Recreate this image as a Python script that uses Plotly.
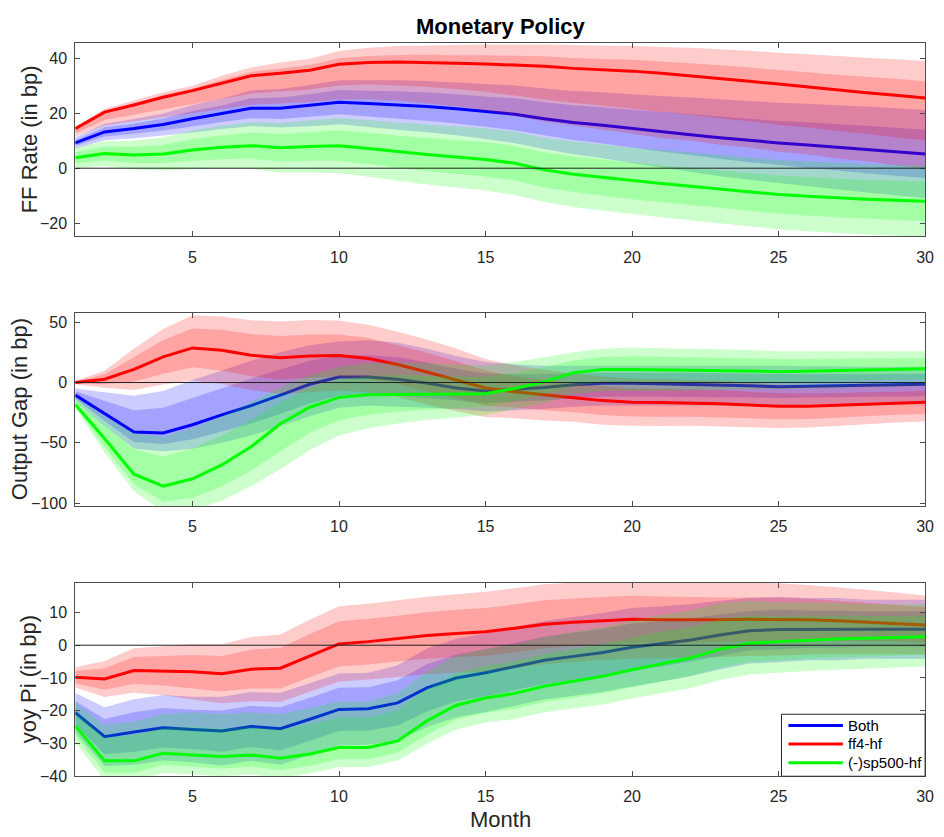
import plotly.graph_objects as go

months = list(range(1, 31))
x_ticks = [5, 10, 15, 20, 25, 30]

# ---------------- FF Rate (in bp) ----------------
ff_both = [9.2, 13.2, 14.4, 15.9, 18.0, 19.8, 21.8, 21.8, 22.8, 24.0, 23.5, 23.0, 22.4, 21.6, 20.6,
           19.6, 18.0, 16.6, 15.6, 14.4, 13.3, 12.2, 11.1, 10.1, 9.2, 8.4, 7.6, 6.8, 6.0, 5.2]
ff_both_o_hi = [11.2, 16.2, 17.9, 19.9, 23.0, 25.3, 28.3, 28.8, 30.3, 32.0, 32.0, 32.0, 31.7, 31.2, 30.6,
                30.1, 29.0, 28.1, 27.6, 26.9, 26.3, 25.7, 25.1, 24.4, 23.8, 23.4, 22.9, 22.4, 21.8, 21.2]
ff_both_i_hi = [10.3, 14.9, 16.3, 18.1, 20.8, 22.8, 25.4, 25.7, 26.9, 28.4, 28.2, 28.0, 27.5, 26.9, 26.1,
                25.4, 24.0, 22.9, 22.2, 21.3, 20.5, 19.6, 18.8, 18.0, 17.2, 16.7, 16.0, 15.4, 14.7, 14.0]
ff_both_i_lo = [8.1, 11.5, 12.5, 13.7, 15.2, 16.8, 18.2, 17.9, 18.7, 19.6, 18.8, 18.0, 17.3, 16.3, 15.1,
                13.8, 12.0, 10.3, 9.0, 7.5, 6.1, 4.8, 3.4, 2.2, 1.2, 0.1, -0.8, -1.8, -2.7, -3.6]
ff_both_o_lo = [7.2, 10.2, 10.9, 11.9, 13.0, 14.3, 15.3, 14.8, 15.3, 16.0, 15.0, 14.0, 13.1, 12.0, 10.6,
                9.1, 7.0, 5.1, 3.6, 1.9, 0.3, -1.3, -2.9, -4.2, -5.4, -6.6, -7.7, -8.8, -9.8, -10.8]

ff_ff4 = [14.4, 20.4, 23.0, 25.8, 28.2, 30.8, 33.6, 34.5, 35.6, 37.8, 38.4, 38.6, 38.5, 38.2, 37.9,
          37.5, 37.1, 36.3, 35.8, 35.3, 34.5, 33.6, 32.7, 31.6, 30.6, 29.5, 28.4, 27.4, 26.5, 25.5]
ff_ff4_o_hi = [15.0, 21.6, 24.6, 27.6, 30.0, 33.6, 36.6, 38.4, 39.8, 42.6, 43.8, 44.4, 44.6, 44.8, 45.0,
               45.0, 45.0, 44.8, 44.6, 44.4, 44.1, 43.8, 43.3, 42.7, 42.0, 41.4, 40.8, 40.2, 39.6, 39.0]
ff_ff4_i_hi = [14.7, 20.9, 23.7, 26.6, 29.0, 32.1, 35.0, 36.3, 37.5, 40.0, 40.8, 41.2, 41.3, 41.1, 41.1,
               40.9, 40.7, 40.1, 39.7, 39.4, 38.8, 38.2, 37.4, 36.6, 35.7, 34.9, 34.0, 33.3, 32.5, 31.6]
ff_ff4_i_lo = [12.7, 17.5, 19.4, 21.4, 23.3, 25.2, 27.2, 27.9, 28.6, 30.1, 30.4, 30.1, 29.5, 28.8, 27.8,
               26.4, 25.0, 23.8, 22.7, 21.6, 20.4, 19.4, 18.2, 17.1, 15.8, 14.8, 13.5, 12.5, 11.2, 10.2]
ff_ff4_o_lo = [11.5, 15.5, 17.0, 18.5, 20.0, 21.5, 23.0, 23.5, 24.0, 25.0, 25.0, 24.5, 23.5, 22.5, 21.0,
               19.0, 17.0, 15.5, 14.0, 12.5, 11.0, 10.0, 8.5, 7.5, 6.0, 5.0, 3.5, 2.5, 1.0, 0.0]

ff_sp = [3.8, 5.3, 4.8, 5.2, 6.6, 7.6, 8.2, 7.4, 7.9, 8.2, 7.2, 6.0, 5.0, 4.1, 3.2,
         1.8, -0.6, -2.2, -3.4, -4.6, -5.6, -6.6, -7.6, -8.6, -9.6, -10.2, -10.8, -11.3, -11.7, -12.0]
ff_sp_o_hi = [7.4, 9.8, 10.0, 11.2, 13.6, 15.4, 16.7, 16.4, 17.4, 18.2, 17.5, 16.6, 15.9, 15.2, 14.5,
              13.3, 11.1, 9.7, 8.6, 7.5, 6.6, 5.7, 4.8, 3.9, 3.0, 2.5, 2.0, 1.5, 1.2, 1.0]
ff_sp_i_hi = [5.8, 7.8, 7.7, 8.5, 10.5, 11.9, 12.9, 12.4, 13.1, 13.7, 12.9, 11.8, 11.0, 10.2, 9.4,
              8.1, 5.8, 4.3, 3.2, 2.1, 1.1, 0.2, -0.8, -1.7, -2.7, -3.2, -3.8, -4.3, -4.6, -4.8]
ff_sp_i_lo = [1.8, 2.8, 1.9, 1.9, 2.7, 3.3, 3.5, 2.4, 2.7, 2.7, 1.5, 0.2, -1.0, -2.0, -3.0,
              -4.5, -7.0, -8.7, -10.0, -11.3, -12.3, -13.4, -14.4, -15.5, -16.5, -17.2, -17.8, -18.3, -18.8, -19.2]
ff_sp_o_lo = [0.2, 0.8, -0.4, -0.8, -0.4, -0.2, -0.3, -1.6, -1.6, -1.8, -3.1, -4.6, -5.9, -7.0, -8.1,
              -9.7, -12.3, -14.1, -15.4, -16.7, -17.8, -18.9, -20.0, -21.1, -22.2, -22.9, -23.6, -24.1, -24.6, -25.0]

# ---------------- Output Gap (in bp) ----------------
og_both = [-10.4, -26.0, -41.0, -41.8, -35.0, -26.8, -19.1, -10.4, -1.4, 4.6, 4.6, 2.7, -0.5, -4.6, -7.0,
           -5.5, -4.1, -1.9, -0.5, -0.5, -0.9, -1.4, -2.0, -2.7, -3.6, -3.3, -2.8, -2.2, -1.8, -1.4]
og_both_o_hi = [-5.0, -8.0, -11.0, -7.0, 2.0, 10.0, 18.0, 25.0, 31.0, 34.0, 35.0, 33.0, 28.0, 22.0, 17.0,
                15.0, 14.0, 14.0, 14.0, 14.0, 14.0, 14.0, 14.0, 14.0, 14.0, 13.5, 13.5, 13.0, 13.0, 13.0]
og_both_i_hi = [-7.2, -15.2, -23.0, -20.9, -12.8, -4.7, 3.2, 10.8, 18.0, 22.2, 22.8, 20.9, 16.6, 11.4, 7.4,
                6.8, 6.8, 7.6, 8.2, 8.2, 8.0, 7.8, 7.6, 7.3, 7.0, 6.8, 7.0, 6.9, 7.1, 7.2]
og_both_i_lo = [-13.2, -32.0, -49.4, -50.9, -47.0, -40.7, -34.0, -25.8, -17.4, -10.8, -9.6, -10.9, -12.8, -15.0, -17.2,
                -16.0, -14.8, -12.8, -11.6, -11.6, -11.8, -12.0, -12.2, -12.5, -12.8, -12.4, -12.2, -11.7, -11.5, -11.4]
og_both_o_lo = [-15.0, -36.0, -55.0, -57.0, -55.0, -50.0, -44.0, -36.0, -28.0, -21.0, -19.0, -20.0, -21.0, -22.0, -24.0,
                -23.0, -22.0, -20.0, -19.0, -19.0, -19.0, -19.0, -19.0, -19.0, -19.0, -18.5, -18.5, -18.0, -18.0, -18.0]

og_ff4 = [0.0, 2.7, 10.9, 21.3, 28.7, 26.8, 22.7, 20.5, 21.9, 22.4, 19.9, 15.0, 8.7, 2.2, -4.5,
          -7.7, -10.4, -12.6, -15.0, -16.4, -16.6, -16.9, -17.5, -18.6, -19.7, -19.7, -19.0, -18.0, -17.2, -16.4]
og_ff4_o_hi = [1.5, 9.7, 27.9, 44.3, 55.7, 54.8, 51.7, 50.5, 51.9, 51.4, 47.9, 42.0, 35.7, 28.2, 19.5,
               14.3, 10.6, 7.4, 5.0, 3.1, 2.9, 2.1, 1.5, -0.1, -1.7, -2.2, -2.0, -1.5, -1.2, -0.4]
og_ff4_i_hi = [0.9, 6.9, 20.9, 35.3, 44.7, 43.8, 40.2, 38.5, 39.9, 39.9, 36.9, 31.0, 24.7, 17.7, 10.0,
               5.3, 2.1, -0.6, -3.0, -4.7, -4.9, -5.5, -6.1, -7.6, -8.9, -9.2, -8.8, -8.0, -7.6, -6.8]
og_ff4_i_lo = [-0.9, -1.5, 0.9, 7.3, 12.7, 9.8, 5.2, 2.5, 3.9, 4.9, 2.9, -1.0, -7.3, -13.3, -19.0,
               -20.7, -22.9, -24.6, -27.0, -28.1, -28.3, -28.3, -28.9, -29.6, -30.5, -30.2, -29.2, -28.0, -26.8, -26.0]
og_ff4_o_lo = [-1.5, -4.3, -6.1, -1.7, 1.7, -1.2, -6.3, -9.5, -8.1, -6.6, -8.1, -12.0, -18.3, -23.8, -28.5,
               -29.7, -31.4, -32.6, -35.0, -35.9, -36.1, -35.9, -36.5, -37.1, -37.7, -37.2, -36.0, -34.5, -33.2, -32.4]

og_sp = [-18.3, -46.4, -76.0, -86.0, -79.8, -68.3, -53.3, -34.2, -20.5, -12.3, -10.1, -9.8, -9.8, -9.8, -9.3,
         -4.9, 0.5, 8.2, 10.9, 10.9, 10.7, 10.4, 10.0, 9.6, 9.0, 9.6, 10.0, 10.4, 11.0, 11.5]
og_sp_o_hi = [-12.0, -28.0, -42.0, -45.0, -38.0, -28.0, -16.0, -4.0, 6.0, 13.0, 16.0, 17.0, 16.0, 15.0, 14.0,
              17.0, 21.0, 25.0, 28.0, 29.0, 28.5, 28.0, 27.5, 27.0, 26.0, 26.0, 26.0, 26.0, 26.0, 26.0]
og_sp_i_hi = [-14.5, -35.4, -55.6, -61.4, -54.7, -44.1, -30.9, -16.1, -4.6, 2.9, 5.6, 6.3, 5.7, 5.1, 4.7,
              8.2, 12.8, 18.3, 21.2, 21.8, 21.4, 21.0, 20.5, 20.0, 19.2, 19.4, 19.6, 19.8, 20.0, 20.2]
og_sp_i_lo = [-19.9, -53.4, -84.4, -98.6, -95.5, -86.1, -72.9, -56.9, -41.8, -31.3, -26.8, -24.3, -22.5, -21.3, -19.9,
              -15.2, -10.0, -2.7, 0.2, 0.2, 0.1, 0.3, 0.4, 0.5, 0.3, 0.8, 1.3, 1.8, 2.3, 2.8]
og_sp_o_lo = [-21.0, -58.0, -90.0, -107.0, -106.0, -98.0, -86.0, -72.0, -56.0, -44.0, -38.0, -34.0, -31.0, -29.0, -27.0,
              -22.0, -17.0, -10.0, -7.0, -7.0, -7.0, -6.5, -6.0, -5.5, -5.5, -5.0, -4.5, -4.0, -3.5, -3.0]

# ---------------- yoy Pi (in bp) ----------------
pi_both = [-20.6, -27.9, -26.5, -25.2, -25.7, -26.2, -24.8, -25.5, -22.6, -19.6, -19.4, -17.6, -13.0, -10.0, -8.4,
           -6.5, -4.6, -3.4, -2.2, -0.6, 0.4, 1.6, 3.1, 4.4, 4.8, 4.9, 4.9, 4.9, 4.9, 4.9]
pi_both_o_hi = [-14.6, -18.9, -16.5, -15.2, -15.7, -15.7, -14.3, -14.5, -11.6, -8.6, -8.4, -6.1, -1.0, 2.0, 3.6,
                5.5, 7.4, 8.6, 9.8, 11.4, 11.9, 12.6, 13.6, 14.4, 14.8, 14.4, 14.4, 13.9, 13.9, 13.9]
pi_both_i_hi = [-17.0, -22.5, -20.5, -19.2, -19.7, -19.9, -18.5, -18.9, -16.0, -13.0, -12.8, -10.7, -5.8, -2.8, -1.2,
                0.7, 2.6, 3.8, 5.0, 6.6, 7.3, 8.2, 9.4, 10.4, 10.8, 10.6, 10.6, 10.3, 10.3, 10.3]
pi_both_i_lo = [-24.2, -33.3, -32.5, -31.2, -31.7, -32.5, -31.1, -32.1, -29.2, -26.2, -26.0, -24.5, -20.2, -17.2, -15.6,
                -13.7, -11.8, -10.6, -9.4, -7.8, -6.5, -5.0, -3.2, -1.6, -1.2, -0.8, -0.8, -0.5, -0.5, -0.5]
pi_both_o_lo = [-26.6, -36.9, -36.5, -35.2, -35.7, -36.7, -35.3, -36.5, -33.6, -30.6, -30.4, -29.1, -25.0, -22.0, -20.4,
                -18.5, -16.6, -15.4, -14.2, -12.6, -11.1, -9.4, -7.4, -5.6, -5.2, -4.6, -4.6, -4.1, -4.1, -4.1]

pi_ff4 = [-9.8, -10.3, -7.7, -7.8, -8.1, -8.7, -7.3, -7.0, -3.2, 0.4, 1.1, 2.0, 3.0, 3.6, 4.1,
          5.2, 6.4, 7.0, 7.5, 7.9, 7.8, 7.7, 7.8, 7.9, 7.9, 7.8, 7.5, 7.1, 6.7, 6.2]
pi_ff4_o_hi = [-6.7, -4.8, -0.9, -0.3, 0.4, 0.3, 2.5, 3.3, 7.8, 11.9, 12.7, 13.7, 14.8, 15.6, 16.3,
               17.4, 18.6, 19.1, 19.5, 19.9, 19.6, 19.3, 19.2, 19.1, 18.9, 18.4, 17.7, 16.9, 16.1, 15.2]
pi_ff4_i_hi = [-7.9, -7.0, -3.6, -3.3, -3.0, -3.3, -1.4, -0.8, 3.4, 7.3, 8.1, 9.0, 10.1, 10.8, 11.4,
               12.5, 13.7, 14.3, 14.7, 15.1, 14.9, 14.7, 14.6, 14.6, 14.5, 14.2, 13.6, 13.0, 12.3, 11.6]
pi_ff4_i_lo = [-11.7, -13.6, -11.8, -12.3, -13.2, -14.1, -13.2, -13.2, -9.8, -6.5, -5.9, -5.0, -4.1, -3.6, -3.2,
               -2.1, -0.9, -0.3, 0.3, 0.7, 0.7, 0.7, 1.0, 1.2, 1.3, 1.4, 1.4, 1.2, 1.1, 0.8]
pi_ff4_o_lo = [-12.9, -15.8, -14.5, -15.3, -16.6, -17.7, -17.1, -17.3, -14.2, -11.1, -10.5, -9.7, -8.8, -8.4, -8.1,
               -7.0, -5.8, -5.1, -4.5, -4.1, -4.0, -3.9, -3.6, -3.3, -3.1, -2.8, -2.7, -2.7, -2.7, -2.8]

pi_sp = [-24.6, -35.3, -35.3, -33.0, -33.5, -34.0, -33.5, -34.5, -33.2, -31.2, -31.2, -29.2, -23.1, -18.3, -16.1,
         -14.7, -12.5, -11.0, -9.5, -7.5, -5.7, -3.9, -1.2, 0.6, 1.1, 1.6, 1.9, 2.1, 2.4, 2.6]
pi_sp_o_hi = [-17.6, -24.3, -23.3, -21.0, -20.5, -21.0, -20.5, -21.0, -19.2, -17.2, -17.2, -14.7, -8.1, -3.3, -1.1,
              0.3, 2.5, 4.0, 5.5, 7.5, 9.3, 10.6, 12.8, 13.6, 13.1, 13.1, 12.9, 12.6, 12.4, 12.6]
pi_sp_i_hi = [-20.0, -28.1, -27.5, -25.2, -25.0, -25.5, -25.0, -25.7, -24.1, -22.1, -22.1, -19.8, -13.3, -8.5, -6.3,
              -4.9, -2.7, -1.2, 0.3, 2.3, 4.1, 5.5, 7.9, 9.1, 8.9, 9.1, 9.1, 8.9, 8.9, 9.1]
pi_sp_i_lo = [-27.6, -38.9, -38.9, -36.6, -37.1, -37.6, -37.1, -38.1, -36.8, -34.8, -34.8, -32.8, -27.3, -22.7, -20.6,
              -19.4, -17.3, -16.0, -14.7, -12.8, -11.1, -9.4, -6.8, -5.1, -4.6, -4.1, -3.7, -3.5, -3.1, -2.9]
pi_sp_o_lo = [-29.6, -41.3, -41.3, -39.0, -39.5, -40.0, -39.5, -40.5, -39.2, -37.2, -37.2, -35.2, -30.1, -25.7, -23.6,
              -22.5, -20.5, -19.3, -18.1, -16.3, -14.7, -13.1, -10.6, -8.9, -8.4, -7.9, -7.5, -7.2, -6.8, -6.5]

series_names = ["Both", "ff4-hf", "(-)sp500-hf"]
line_colors = ["rgb(0,0,255)", "rgb(255,0,0)", "rgb(0,255,0)"]
band_colors = ["rgba(0,0,255,0.2)", "rgba(255,0,0,0.2)", "rgba(0,255,0,0.2)"]

panels = [
    {
        "ylabel": "FF Rate (in bp)", "yrange": [-24.8, 45.6], "yticks": [-20, 0, 20, 40],
        "series": [
            (ff_both, ff_both_o_lo, ff_both_o_hi, ff_both_i_lo, ff_both_i_hi),
            (ff_ff4, ff_ff4_o_lo, ff_ff4_o_hi, ff_ff4_i_lo, ff_ff4_i_hi),
            (ff_sp, ff_sp_o_lo, ff_sp_o_hi, ff_sp_i_lo, ff_sp_i_hi),
        ],
        "domain": [0.7145, 0.9483], "label_x": 30,
    },
    {
        "ylabel": "Output Gap (in bp)", "yrange": [-102.5, 58], "yticks": [-100, -50, 0, 50],
        "series": [
            (og_both, og_both_o_lo, og_both_o_hi, og_both_i_lo, og_both_i_hi),
            (og_ff4, og_ff4_o_lo, og_ff4_o_hi, og_ff4_i_lo, og_ff4_i_hi),
            (og_sp, og_sp_o_lo, og_sp_o_hi, og_sp_i_lo, og_sp_i_hi),
        ],
        "domain": [0.3887, 0.6225], "label_x": 20,
    },
    {
        "ylabel": "yoy Pi (in bp)", "yrange": [-40, 19], "yticks": [-40, -30, -20, -10, 0, 10],
        "series": [
            (pi_both, pi_both_o_lo, pi_both_o_hi, pi_both_i_lo, pi_both_i_hi),
            (pi_ff4, pi_ff4_o_lo, pi_ff4_o_hi, pi_ff4_i_lo, pi_ff4_i_hi),
            (pi_sp, pi_sp_o_lo, pi_sp_o_hi, pi_sp_i_lo, pi_sp_i_hi),
        ],
        "domain": [0.0625, 0.2959], "label_x": 29,
    },
]

W, H = 944, 837
FONT = "Liberation Sans, Arial, Helvetica, sans-serif"
AX_COLOR = "#262626"

fig = go.Figure()
annotations = []
shapes = []
layout_axes = {}

for k, panel in enumerate(panels):
    n = k + 1
    xa = "x" if n == 1 else f"x{n}"
    ya = "y" if n == 1 else f"y{n}"
    for s, (mid, o_lo, o_hi, i_lo, i_hi) in enumerate(panel["series"]):
        # 90% band then 68% band, each a closed polygon
        for lo, hi in ((o_lo, o_hi), (i_lo, i_hi)):
            fig.add_trace(go.Scatter(
                x=months + months[::-1], y=hi + lo[::-1],
                fill="toself", fillcolor=band_colors[s], mode="none",
                line=dict(width=0), hoverinfo="skip", showlegend=False,
                xaxis=xa, yaxis=ya))
        fig.add_trace(go.Scatter(
            x=months, y=mid, mode="lines", name=series_names[s],
            line=dict(color=line_colors[s], width=3),
            showlegend=False, xaxis=xa, yaxis=ya))

    shapes.append(dict(type="line", xref=xa, yref=ya, x0=1, x1=30, y0=0, y1=0,
                       line=dict(color="#222222", width=1), layer="above"))

    common = dict(showline=True, linecolor="#4d4d4d", linewidth=1, mirror="ticks",
                  ticks="inside", ticklen=5, tickwidth=1, tickcolor="#4d4d4d",
                  showgrid=False, zeroline=False,
                  tickfont=dict(family=FONT, size=16, color=AX_COLOR))
    xkey = "xaxis" if n == 1 else f"xaxis{n}"
    ykey = "yaxis" if n == 1 else f"yaxis{n}"
    layout_axes[xkey] = dict(range=[1, 30], tickvals=x_ticks, domain=[76 / W, 934 / W],
                             anchor=ya, ticklabelstandoff=6, **common)
    layout_axes[ykey] = dict(range=panel["yrange"], tickvals=panel["yticks"],
                             domain=panel["domain"], anchor=xa, ticklabelstandoff=4, **common)

    dom = panel["domain"]
    annotations.append(dict(
        text=panel["ylabel"], xref="paper", yref="paper",
        x=panel["label_x"] / W, y=(dom[0] + dom[1]) / 2, textangle=-90,
        xanchor="center", yanchor="middle", showarrow=False,
        font=dict(family=FONT, size=22, color=AX_COLOR)))

annotations.append(dict(
    text="<b>Monetary Policy</b>", xref="paper", yref="paper",
    x=505 / W, y=1 - 27 / H, xanchor="center", yanchor="middle", showarrow=False,
    font=dict(family=FONT, size=22, color="#000000")))
annotations.append(dict(
    text="Month", xref="paper", yref="paper",
    x=505 / W, y=1 - 828 / H, xanchor="center", yanchor="middle", showarrow=False,
    font=dict(family=FONT, size=22, color=AX_COLOR)))

# Legend box in the lower right corner of the inflation panel
leg_left, leg_right, leg_top, leg_bottom = 789, 934, 722, 784.7
shapes.append(dict(type="rect", xref="paper", yref="paper",
                   x0=leg_left / W, x1=leg_right / W, y0=1 - leg_bottom / H, y1=1 - leg_top / H,
                   fillcolor="white", line=dict(color="#262626", width=1), layer="above"))
for s, row_y in enumerate([733.3, 752.0, 771.0]):
    shapes.append(dict(type="line", xref="paper", yref="paper",
                       x0=796 / W, x1=851 / W, y0=1 - row_y / H, y1=1 - row_y / H,
                       line=dict(color=line_colors[s], width=3), layer="above"))
    annotations.append(dict(
        text=series_names[s], xref="paper", yref="paper",
        x=854 / W, y=1 - row_y / H, xanchor="left", yanchor="middle", showarrow=False,
        font=dict(family=FONT, size=15, color="#000000")))

fig.update_layout(
    width=W, height=H,
    margin=dict(l=0, r=0, t=0, b=0),
    paper_bgcolor="white", plot_bgcolor="white",
    font=dict(family=FONT, color=AX_COLOR),
    annotations=annotations, shapes=shapes,
    showlegend=False,
    **layout_axes,
)

fig.write_html("out.html")
